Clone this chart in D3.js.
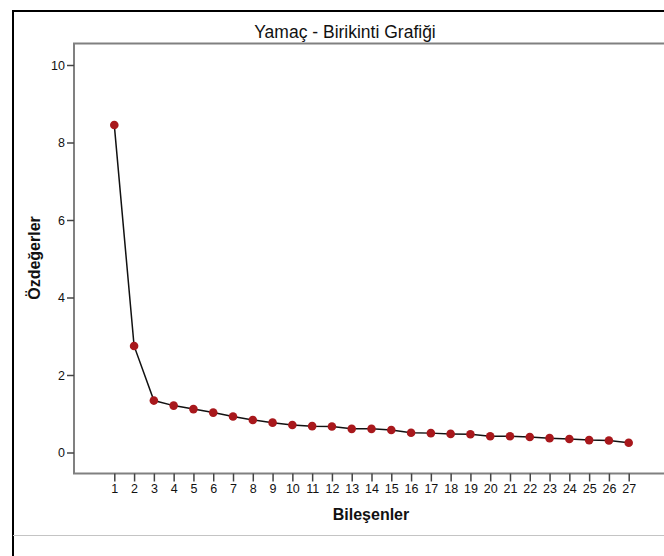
<!DOCTYPE html>
<html>
<head>
<meta charset="utf-8">
<script src="https://cdn.jsdelivr.net/npm/d3@7"></script>
<style>
    body { margin: 0; background: #fff; }
    svg text { font-family: "Liberation Sans", Arial, sans-serif; fill: #111; }
</style>
</head>
<body>
<script>

//scree plot values
var components = [1,2,3,4,5,6,7,8,9,10,11,12,13,14,15,16,17,18,19,20,21,22,23,24,25,26,27];
var eigenvalues = [8.45,2.75,1.34,1.21,1.12,1.03,0.93,0.84,0.77,0.71,0.68,0.67,0.61,0.61,0.58,
    0.51,0.50,0.48,0.47,0.42,0.42,0.40,0.37,0.35,0.32,0.31,0.25];
var yTicks = [0,2,4,6,8,10];

var titleText = "Yamaç - Birikinti Grafiği",
    xTitle = "Bileşenler",
    yTitle = "Özdeğerler";

window.onload = drawChart();

function drawChart(){

    //svg dimensions
    var w = 664, h = 556;

    var svg = d3.select("body")
        .append("svg")
        .attr("width", w)
        .attr("height", h);

    //outer black frame (right side runs off the picture)
    svg.append("path")
        .attr("d", "M13,556 V11 H670")
        .attr("fill", "none")
        .attr("stroke", "#000")
        .attr("stroke-width", 2);

    //light separator line near the bottom
    svg.append("line")
        .attr("x1", 13).attr("x2", w)
        .attr("y1", 535.5).attr("y2", 535.5)
        .attr("stroke", "#c4c4c4")
        .attr("stroke-width", 1);

    //plot box
    var left = 74, top = 43.5, bottom = 473.5;

    var x = d3.scaleLinear()
        .domain([1, 27])
        .range([114.3, 628.7]);

    var y = d3.scaleLinear()
        .domain([0, 10])
        .range([452.5, 65]);

    svg.append("path")
        .attr("d", "M" + w + "," + top + " H" + left + " V" + bottom + " H" + w)
        .attr("fill", "none")
        .attr("stroke", "#808080")
        .attr("stroke-width", 2);

    //y axis
    var yAxis = d3.axisLeft(y)
        .tickValues(yTicks)
        .tickSize(7)
        .tickPadding(2)
        .tickFormat(d3.format("d"));

    var gy = svg.append("g")
        .attr("transform", "translate(" + left + ",0)")
        .call(yAxis);
    gy.select(".domain").remove();
    gy.selectAll(".tick line").attr("stroke", "#444").attr("stroke-width", 1.5);
    gy.selectAll(".tick text")
        .style("font-family", "'Liberation Sans', Arial, sans-serif")
        .style("font-size", "12.5px")
        .attr("fill", "#222");

    //x axis
    var xAxis = d3.axisBottom(x)
        .tickValues(components)
        .tickSize(8)
        .tickPadding(3)
        .tickFormat(d3.format("d"));

    var gx = svg.append("g")
        .attr("transform", "translate(0," + bottom + ")")
        .call(xAxis);
    gx.select(".domain").remove();
    gx.selectAll(".tick line").attr("stroke", "#444").attr("stroke-width", 1.5);
    gx.selectAll(".tick text")
        .style("font-family", "'Liberation Sans', Arial, sans-serif")
        .style("font-size", "12.5px")
        .attr("fill", "#222");

    //line through the eigenvalues
    var line = d3.line()
        .x(function(d, i){ return x(components[i]); })
        .y(function(d){ return y(d); });

    svg.append("path")
        .datum(eigenvalues)
        .attr("d", line)
        .attr("fill", "none")
        .attr("stroke", "#111")
        .attr("stroke-width", 1.5);

    //points
    svg.selectAll(".pt")
        .data(eigenvalues)
        .enter()
        .append("circle")
        .attr("class", "pt")
        .attr("cx", function(d, i){ return x(components[i]); })
        .attr("cy", function(d){ return y(d); })
        .attr("r", 4.3)
        .attr("fill", "#a8181c");

    //titles
    svg.append("text")
        .attr("x", 345)
        .attr("y", 38)
        .attr("text-anchor", "middle")
        .style("font-size", "17.5px")
        .text(titleText);

    svg.append("text")
        .attr("x", 371)
        .attr("y", 520)
        .attr("text-anchor", "middle")
        .style("font-size", "16px")
        .style("font-weight", "bold")
        .text(xTitle);

    svg.append("text")
        .attr("transform", "translate(40,258) rotate(-90)")
        .attr("text-anchor", "middle")
        .style("font-size", "16px")
        .style("font-weight", "bold")
        .text(yTitle);
};
</script>
</body>
</html>
